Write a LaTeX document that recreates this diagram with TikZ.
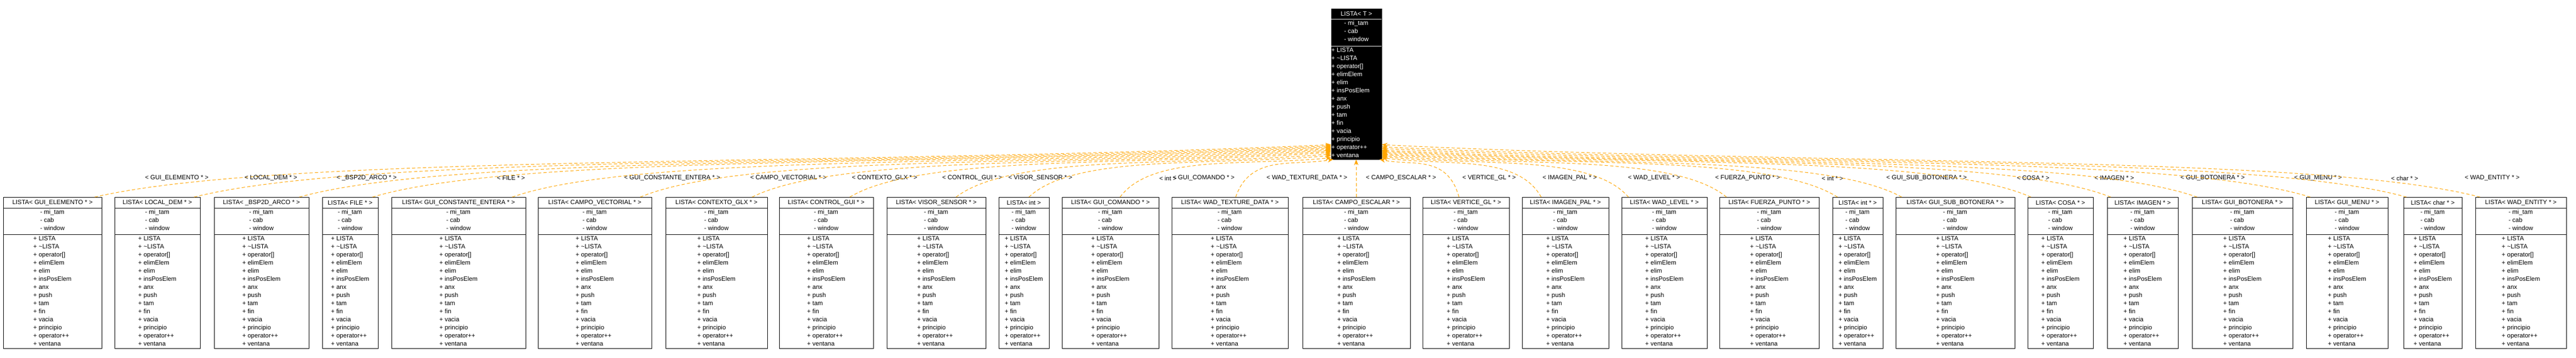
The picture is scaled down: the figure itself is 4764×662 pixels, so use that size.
\documentclass[tikz,border=0pt]{standalone}
\usepackage{fontspec}
\setmainfont{Liberation Sans}
\usetikzlibrary{arrows.meta}
\definecolor{edgeor}{HTML}{FFA500}
\tikzset{
 boxfont/.style={font=\fontsize{11.5}{15}\selectfont},
 lbox/.style={draw=black,line width=1pt,anchor=north west,inner sep=0pt,fill=white},
 txt/.style={boxfont,inner sep=0pt},
 edge/.style={draw=edgeor,line width=1pt,dash pattern=on 6pt off 4pt,-{Stealth[length=11pt,width=8pt]}},
 elabel/.style={boxfont,inner sep=0pt}
}
\newcommand{\attrlist}{- mi\_tam\\- cab\\- window}
\newcommand{\methlist}{+ LISTA\\+ \textasciitilde LISTA\\+ operator[]\\+ elimElem\\+ elim\\+ insPosElem\\+ anx\\+ push\\+ tam\\+ fin\\+ vacia\\+ principio\\+ operator++\\+ ventana}
% id, x1, x2, type, f, label x, parent x, parent y
\newcommand{\child}[8]{%
 \pgfmathsetmacro\bw{#3-#2}%
 \pgfmathsetmacro\bm{(#2+#3)/2}%
 \pgfmathsetmacro\cx{#2+#5*(#3-#2)}%
 \pgfmathsetmacro\ca{\cx+0.15*(#7-\cx)}%
 \pgfmathsetmacro\cb{#7-0.4*(#7-\cx)}%
 \node[lbox,minimum width=\bw pt,minimum height=280pt] (#1) at (#2,365) {};
 \draw[line width=1pt] (#2,385) -- (#3,385) (#2,434) -- (#3,434);
 \node[txt] (#1-t) at (\bm,375.5) {LISTA< #4 >};
 \node[txt,align=left,anchor=north] (#1-a) at (\bm,388) {\attrlist};
 \node[txt,align=left,anchor=north] (#1-m) at (\bm,437) {\methlist};
 \node[elabel] (#1-l) at (#6,330) {< #4 >};
 \coordinate (#1-s) at (\cx,365);
 \coordinate (#1-p) at (#7,#8);
 \draw[edge] (#1-s) .. controls (\ca,285) and (\cb,308) .. (#1-p);
}
\begin{document}
\begin{tikzpicture}[x=1pt,y=-1pt]
\useasboundingbox (0,0) rectangle (4764,662);
% parent
\node[draw=black,fill=black,line width=1pt,anchor=north west,minimum width=93pt,minimum height=279pt,inner sep=0pt] (P) at (2462,16) {};
\draw[white,line width=1pt] (2462,35) -- (2555,35) (2462,85) -- (2555,85);
\node[txt,text=white] (P-t) at (2508.5,26) {LISTA< T >};
\node[txt,text=white,align=left,anchor=north] (P-a) at (2508.5,38) {\attrlist};
\node[txt,text=white,align=left,anchor=north west] (P-m) at (2462,88) {\methlist};
% children
\child{c1}{6}{188}{GUI\_ELEMENTO *}{.93}{327}{2462}{268}
\child{c2}{212}{370}{LOCAL\_DEM *}{.93}{501}{2462}{270}
\child{c3}{396}{571}{\_BSP2D\_ARCO *}{.9}{678}{2462}{272}
\child{c4}{596}{699}{FILE *}{.9}{945}{2462}{274}
\child{c5}{724}{972}{GUI\_CONSTANTE\_ENTERA *}{.9}{1243}{2462}{276}
\child{c6}{995}{1205}{CAMPO\_VECTORIAL *}{.9}{1458}{2462}{278}
\child{c7}{1231}{1419}{CONTEXTO\_GLX *}{.85}{1636}{2462}{280}
\child{c8}{1441}{1615}{CONTROL\_GUI *}{.75}{1798}{2462}{282}
\child{c9}{1640}{1823}{VISOR\_SENSOR *}{.7}{1924}{2462}{285}
\child{c10}{1847}{1940}{int}{.6}{2160}{2462}{288}
\child{c11}{1964}{2143}{GUI\_COMANDO *}{.6}{2226}{2462}{292}
\child{c12}{2167}{2382}{WAD\_TEXTURE\_DATA *}{.55}{2417}{2466}{295}
\child{c13}{2409}{2608}{CAMPO\_ESCALAR *}{.5}{2591}{2508}{295}
\child{c14}{2631}{2791}{VERTICE\_GL *}{.42}{2754}{2551}{295}
\child{c15}{2815}{2975}{IMAGEN\_PAL *}{.22}{2903}{2555}{292}
\child{c16}{2999}{3157}{WAD\_LEVEL *}{.08}{3059}{2555}{290}
\child{c17}{3180}{3364}{FUERZA\_PUNTO *}{.07}{3232}{2555}{288}
\child{c18}{3389}{3482}{int *}{.1}{3389}{2555}{286}
\child{c19}{3506}{3726}{GUI\_SUB\_BOTONERA *}{.05}{3563}{2555}{284}
\child{c20}{3750}{3871}{COSA *}{.05}{3760}{2555}{282}
\child{c21}{3897}{4028}{IMAGEN *}{.05}{3910}{2555}{280}
\child{c22}{4054}{4240}{GUI\_BOTONERA *}{.05}{4092}{2555}{278}
\child{c23}{4265}{4416}{GUI\_MENU *}{.05}{4287}{2555}{275}
\child{c24}{4445}{4553}{char *}{.05}{4447}{2555}{272}
\child{c25}{4578}{4746}{WAD\_ENTITY *}{.05}{4609}{2555}{268}
\end{tikzpicture}
\end{document}
